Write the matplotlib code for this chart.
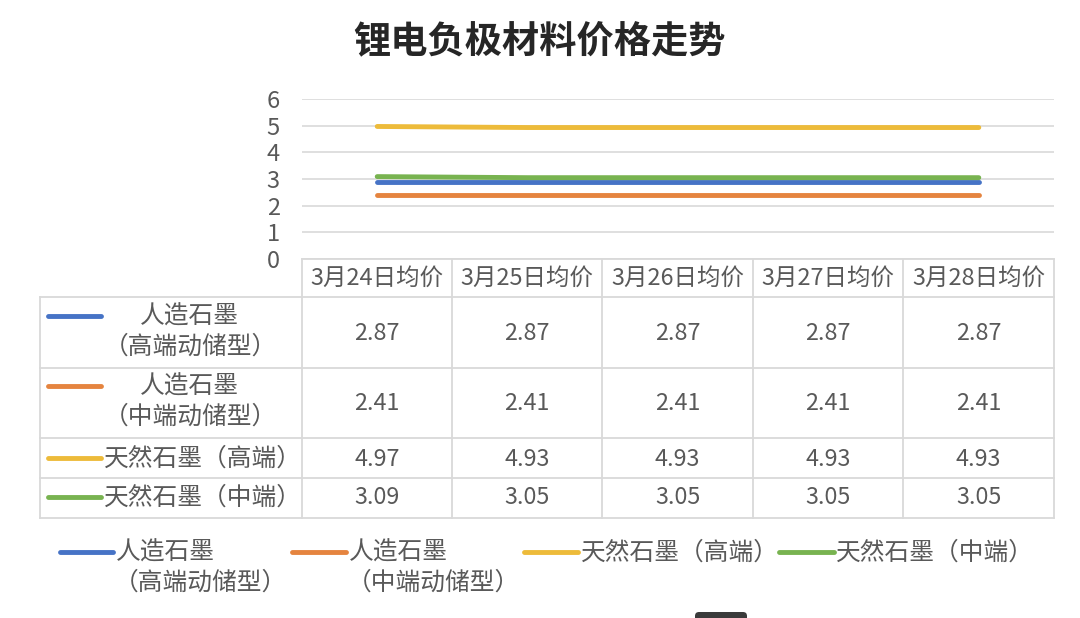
import matplotlib
matplotlib.use('Agg')
import matplotlib.pyplot as plt
from matplotlib.lines import Line2D
from matplotlib.patches import FancyBboxPatch

plt.rcParams['font.family'] = ['Noto Sans CJK SC', 'DejaVu Sans']

# ---------------- data ----------------
title = '锂电负极材料价格走势'
dates = ['3月24日均价', '3月25日均价', '3月26日均价', '3月27日均价', '3月28日均价']
series_line1 = ['人造石墨', '人造石墨', '天然石墨（高端）', '天然石墨（中端）']
series_line2 = ['（高端动储型）', '（中端动储型）', '', '']
artificial_high = [2.87, 2.87, 2.87, 2.87, 2.87]
artificial_mid = [2.41, 2.41, 2.41, 2.41, 2.41]
natural_high = [4.97, 4.93, 4.93, 4.93, 4.93]
natural_mid = [3.09, 3.05, 3.05, 3.05, 3.05]
series_values = [artificial_high, artificial_mid, natural_high, natural_mid]
yticks = [0, 1, 2, 3, 4, 5, 6]

colors = ['#4673C6', '#E5843F', '#EDBB3A', '#78B350']
text_color = '#595959'
grid_color = '#D9D9D9'

W, H = 1080, 618
fig = plt.figure(figsize=(W / 100, H / 100), dpi=100)


def fx(x):
    return x / W


def fy(y):
    return 1 - y / H


# overlay in pixel coordinates for table / legend
ov = fig.add_axes([0, 0, 1, 1], zorder=0)
ov.set_xlim(0, W)
ov.set_ylim(H, 0)
ov.axis('off')

# ---------------- plot area ----------------
L, R, T, B = 302, 1054, 99, 259
ax = fig.add_axes([fx(L), fy(B), fx(R) - fx(L), fy(T) - fy(B)], zorder=2)
ax.set_facecolor('none')
x = list(range(len(dates)))
for vals, c in zip(series_values, colors):
    ax.plot(x, vals, color=c, lw=3.5, solid_capstyle='round', zorder=3)
ax.set_xlim(-0.5, len(dates) - 0.5)
ax.set_ylim(0, 6)
ax.set_yticks(yticks)
ax.set_yticklabels([str(v) for v in yticks])
ax.set_xticks([])
ax.yaxis.grid(True, color=grid_color, lw=1.2)
ax.set_axisbelow(True)
for s in ax.spines.values():
    s.set_visible(False)
ax.tick_params(axis='y', length=0, pad=16, labelsize=17, labelcolor=text_color)

# title
fig.text(0.5, fy(43), title, ha='center', va='center', fontsize=26.8,
         fontweight='bold', color='#262626')

# ---------------- data table ----------------
col_edges = [302, 452, 602, 753, 903, 1054]
col_centers = [(col_edges[i] + col_edges[i + 1]) / 2 for i in range(len(dates))]
row_edges = [297, 368, 438, 478, 518]
lw_t = 1.3
# header row lines
ov.add_line(Line2D([302, 1054], [259, 259], color=grid_color, lw=lw_t))
for xe in col_edges:
    ov.add_line(Line2D([xe, xe], [259, 518], color=grid_color, lw=lw_t))
ov.add_line(Line2D([40, 40], [297, 518], color=grid_color, lw=lw_t))
for ye in row_edges:
    ov.add_line(Line2D([40, 1054], [ye, ye], color=grid_color, lw=lw_t))

for cx, d in zip(col_centers, dates):
    ov.text(cx, 278, d, ha='center', va='center', fontsize=16.9, color=text_color)

label_fs = 17.8
row_value_y = [333, 404, 459, 498]
row_key_y = [316, 386, 458, 497]
for i, vals in enumerate(series_values):
    ky = row_key_y[i]
    ov.add_line(Line2D([48, 101], [ky, ky], color=colors[i], lw=3.5,
                       solid_capstyle='round'))
    if series_line2[i]:
        ov.text(189, ky + 1, series_line1[i], ha='center', va='center',
                fontsize=label_fs, color=text_color)
        ov.text(190, ky + 31, series_line2[i], ha='center', va='center',
                fontsize=label_fs, color=text_color)
    else:
        ov.text(104, ky + 1, series_line1[i], ha='left', va='center',
                fontsize=label_fs, color=text_color)
    for cx, v in zip(col_centers, vals):
        ov.text(cx, row_value_y[i], f'{v:.2f}', ha='center', va='center',
                fontsize=16.8, color=text_color)

# ---------------- legend ----------------
leg_key = [(60, 113), (292, 346), (524, 578), (779, 834)]
leg_text_x = [116, 349, 581, 836]
leg_y = 552
for i in range(len(series_values)):
    k0, k1 = leg_key[i]
    ov.add_line(Line2D([k0, k1], [leg_y, leg_y], color=colors[i], lw=3.5,
                       solid_capstyle='round'))
    ov.text(leg_text_x[i], leg_y + 1, series_line1[i], ha='left', va='center',
            fontsize=label_fs, color=text_color)
    if series_line2[i]:
        ov.text(leg_text_x[i] - 2, leg_y + 31, series_line2[i], ha='left',
                va='center', fontsize=label_fs, color=text_color)

# small dark tab at the bottom edge (screenshot artefact)
ov.add_patch(FancyBboxPatch((695, 612), 52, 12, boxstyle='round,pad=0,rounding_size=4',
                            fc='#3A3A3A', ec='none'))

fig.savefig('out.png', dpi=100)
